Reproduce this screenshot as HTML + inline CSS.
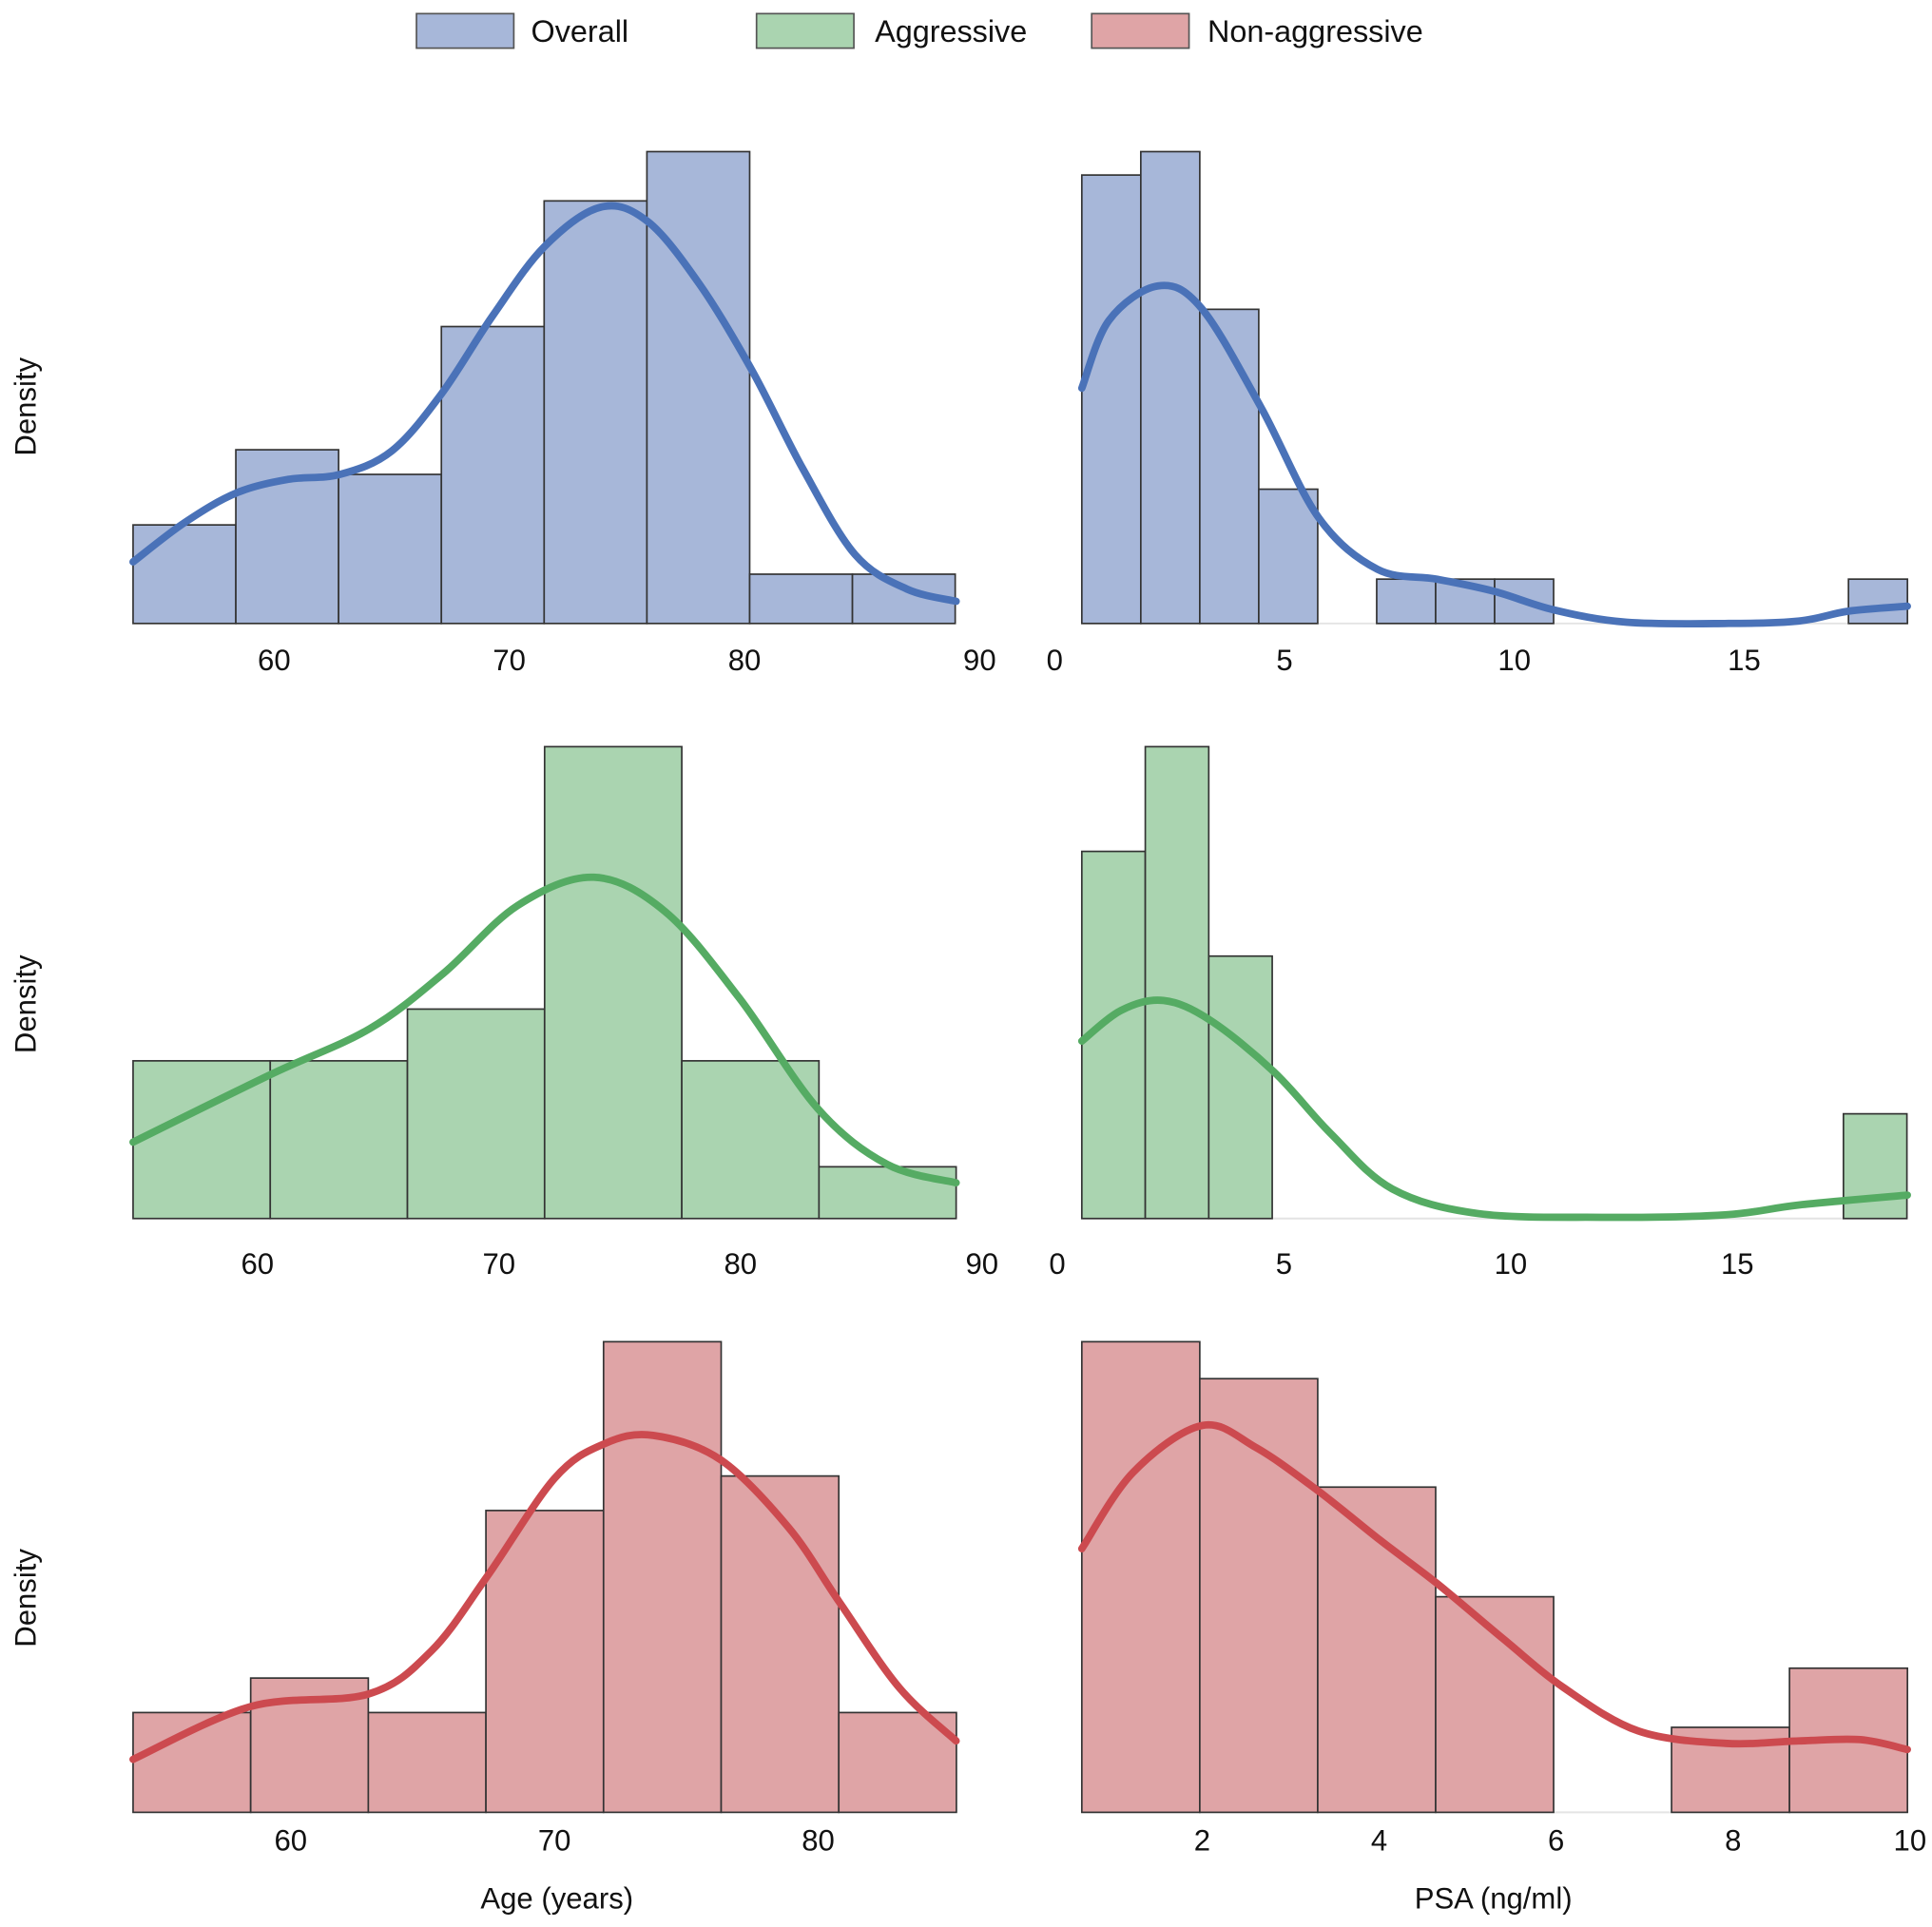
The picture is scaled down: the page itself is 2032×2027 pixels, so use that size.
<!DOCTYPE html>
<html><head><meta charset="utf-8"><style>
html,body{margin:0;padding:0;background:#fff}
svg{display:block}
text{font-family:"Liberation Sans",sans-serif;fill:#111}
</style></head><body>
<svg id="chart" width="2032" height="2027" viewBox="0 0 1568 1564" xmlns="http://www.w3.org/2000/svg">
<g>
<rect x="338" y="11" width="79" height="28" fill="#a7b7d9" stroke="#555" stroke-width="1.3"/>
<text x="431" y="34" font-size="25">Overall</text>
<rect x="614" y="11" width="79" height="28" fill="#aad4b0" stroke="#555" stroke-width="1.3"/>
<text x="710" y="34" font-size="25">Aggressive</text>
<rect x="886" y="11" width="79" height="28" fill="#dfa4a6" stroke="#555" stroke-width="1.3"/>
<text x="980" y="34" font-size="25">Non-aggressive</text>
</g>
<text transform="translate(29,330) rotate(-90)" text-anchor="middle" font-size="24">Density</text>
<text transform="translate(29,815) rotate(-90)" text-anchor="middle" font-size="24">Density</text>
<text transform="translate(29,1297) rotate(-90)" text-anchor="middle" font-size="24">Density</text>
<text x="452" y="1549" text-anchor="middle" font-size="24">Age (years)</text>
<text x="1212" y="1549" text-anchor="middle" font-size="24">PSA (ng/ml)</text>
</svg>
<script>
// ---- data (density units; 1 unit = 10 display px) ----
const ageOverallStart = 54.0, ageOverallWidth = 4.37;
const ageOverallBars = [8.0, 14.1, 12.1, 24.1, 34.3, 38.3, 4.0, 4.0];
const ageOverallKdeX = [54.0, 56.2, 58.4, 60.6, 62.8, 65.0, 67.1, 69.3, 71.5, 73.9, 75.9, 78.1, 80.3, 82.5, 84.7, 86.9, 89.0];
const ageOverallKdeY = [5.0, 8.2, 10.6, 11.7, 12.1, 14.0, 18.6, 25.0, 30.6, 33.8, 32.6, 27.5, 20.6, 12.5, 5.6, 2.8, 1.8];
const psaOverallStart = 0.59, psaOverallWidth = 1.283;
const psaOverallBars = [36.4, 38.3, 25.5, 10.9, 0, 3.6, 3.6, 3.6, 0, 0, 0, 0, 0, 3.6];
const psaOverallKdeX = [0.59, 1.18, 2.25, 3.19, 4.48, 5.74, 7.02, 8.31, 9.57, 10.86, 12.44, 14.58, 16.19, 17.27, 18.55];
const psaOverallKdeY = [19.1, 24.6, 27.4, 25.6, 17.6, 8.6, 4.4, 3.6, 2.6, 1.1, 0.1, 0, 0.2, 1.0, 1.4];

const ageAggStart = 54.85, ageAggWidth = 5.68;
const ageAggBars = [12.8, 12.8, 17.0, 38.3, 12.8, 4.2];
const ageAggKdeX = [54.85, 60.56, 64.64, 67.70, 70.77, 73.93, 76.89, 79.95, 83.21, 86.07, 88.93];
const ageAggKdeY = [6.2, 11.7, 15.4, 19.9, 25.4, 27.7, 24.9, 17.9, 8.9, 4.4, 2.9];
const psaAggStart = 0.54, psaAggWidth = 1.40;
const psaAggBars = [29.8, 38.3, 21.3, 0, 0, 0, 0, 0, 0, 0, 0, 0, 8.5];
const psaAggKdeX = [0.54, 1.41, 2.34, 3.37, 4.78, 6.03, 7.39, 9.29, 12.01, 14.73, 16.36, 18.75];
const psaAggKdeY = [14.4, 16.9, 17.7, 16.1, 11.9, 6.9, 2.4, 0.4, 0.1, 0.3, 1.1, 1.9];

const ageNonStart = 54.02, ageNonWidth = 4.46;
const ageNonBars = [8.1, 10.9, 8.1, 24.5, 38.2, 27.3, 8.1];
const ageNonKdeX = [54.02, 58.50, 62.94, 65.33, 67.43, 70.0, 71.87, 73.74, 76.31, 78.88, 80.79, 83.08, 85.23];
const ageNonKdeY = [4.3, 8.6, 9.6, 13.1, 19.1, 27.1, 29.9, 30.6, 28.6, 23.1, 17.1, 10.1, 5.8];
const psaNonStart = 0.64, psaNonWidth = 1.333;
const psaNonBars = [38.2, 35.2, 26.4, 17.5, 0, 6.9, 11.7];
const psaNonKdeX = [0.64, 1.22, 2.0, 2.61, 3.31, 4.01, 4.65, 5.40, 6.09, 6.93, 7.91, 8.74, 9.44, 9.97];
const psaNonKdeY = [21.4, 27.6, 31.4, 29.6, 26.1, 22.1, 18.6, 14.1, 10.1, 6.6, 5.6, 5.8, 5.9, 5.1];

const ageTicks = [60, 70, 80, 90];
const ageTicksRow3 = [60, 70, 80];
const psaTicks = [0, 5, 10, 15];
const psaTicksRow3 = [2, 4, 6, 8, 10];

const NS = "http://www.w3.org/2000/svg";
const svg = document.getElementById("chart");
const BLUE = ["#a7b7d9", "#4a72b8"], GREEN = ["#aad4b0", "#55ab63"], RED = ["#dfa4a6", "#cc4a4f"];

function mk(tag, attrs) {
  const e = document.createElementNS(NS, tag);
  for (const k in attrs) e.setAttribute(k, attrs[k]);
  svg.appendChild(e);
  return e;
}
function smoothPath(pts) {
  let d = "M" + pts[0][0].toFixed(1) + "," + pts[0][1].toFixed(1);
  for (let i = 0; i < pts.length - 1; i++) {
    const p0 = pts[i - 1] || pts[i], p1 = pts[i], p2 = pts[i + 1], p3 = pts[i + 2] || p2;
    const c1x = p1[0] + (p2[0] - p0[0]) / 6, c1y = p1[1] + (p2[1] - p0[1]) / 6;
    const c2x = p2[0] - (p3[0] - p1[0]) / 6, c2y = p2[1] - (p3[1] - p1[1]) / 6;
    d += "C" + c1x.toFixed(1) + "," + c1y.toFixed(1) + " " + c2x.toFixed(1) + "," + c2y.toFixed(1) + " " + p2[0].toFixed(1) + "," + p2[1].toFixed(1);
  }
  return d;
}
function panel(name, px0, px1, d0, d1, base, start, width, bars, kx, ky, ticks, colors, tickY, baseline) {
  const xs = v => px0 + (v - d0) / (d1 - d0) * (px1 - px0);
  const ys = v => base - v * 10;
  if (baseline) {
    const bl = mk("line", {x1: px0, x2: px1, y1: base, y2: base, stroke: "#e4e4e4", "stroke-width": 1.5});
    
    
  }
  bars.forEach((v, i) => {
    if (v <= 0) return;
    const a = xs(start + i * width), b = xs(start + (i + 1) * width);
    const r = mk("rect", {x: a, y: ys(v), width: b - a, height: base - ys(v), fill: colors[0], stroke: "#333", "stroke-width": 1.3});
    
    
  });
  const pts = kx.map((x, i) => [xs(x), ys(ky[i])]);
  const p = mk("path", {d: smoothPath(pts), fill: "none", stroke: colors[1], "stroke-width": 6, "stroke-linecap": "round"});
  
  
  ticks.forEach(t => {
    const tx = mk("text", {x: xs(t), y: tickY, "text-anchor": "middle", "font-size": 24});
    tx.textContent = t;
    
    
  });
}
panel("age-overall", 108, 776, 54.0, 89.0, 506, ageOverallStart, ageOverallWidth, ageOverallBars, ageOverallKdeX, ageOverallKdeY, ageTicks, BLUE, 544, false);
panel("psa-overall", 878, 1548, 0.59, 18.55, 506, psaOverallStart, psaOverallWidth, psaOverallBars, psaOverallKdeX, psaOverallKdeY, psaTicks, BLUE, 544, true);
panel("age-aggressive", 108, 776, 54.85, 88.93, 989, ageAggStart, ageAggWidth, ageAggBars, ageAggKdeX, ageAggKdeY, ageTicks, GREEN, 1034, false);
panel("psa-aggressive", 878, 1548, 0.54, 18.75, 989, psaAggStart, psaAggWidth, psaAggBars, psaAggKdeX, psaAggKdeY, psaTicks, GREEN, 1034, true);
panel("age-non-aggressive", 108, 776, 54.02, 85.23, 1471, ageNonStart, ageNonWidth, ageNonBars, ageNonKdeX, ageNonKdeY, ageTicksRow3, RED, 1502, false);
panel("psa-non-aggressive", 878, 1548, 0.64, 9.97, 1471, psaNonStart, psaNonWidth, psaNonBars, psaNonKdeX, psaNonKdeY, psaTicksRow3, RED, 1502, true);
</script>
</body></html>
